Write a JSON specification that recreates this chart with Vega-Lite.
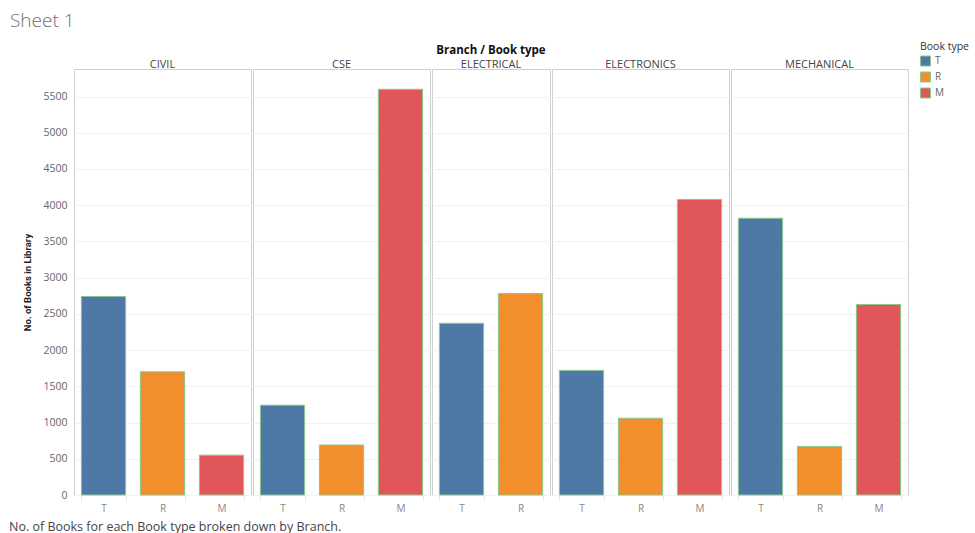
{
  "$schema": "https://vega.github.io/schema/vega-lite/v6.json",
  "background": "white",
  "padding": {"left": 8, "top": 12, "right": 2, "bottom": 2},
  "title": {
    "text": "Sheet 1",
    "anchor": "start",
    "frame": "bounds",
    "font": "Open Sans",
    "fontSize": 19,
    "fontWeight": 300,
    "color": "#707070",
    "offset": 11,
    "dx": 1
  },
  "vconcat": [
    {
      "data": {
        "values": [
          {"Branch": "CIVIL", "Type": "T", "Books": 2740},
          {"Branch": "CIVIL", "Type": "R", "Books": 1700},
          {"Branch": "CIVIL", "Type": "M", "Books": 550},
          {"Branch": "CSE", "Type": "T", "Books": 1240},
          {"Branch": "CSE", "Type": "R", "Books": 690},
          {"Branch": "CSE", "Type": "M", "Books": 5600},
          {"Branch": "ELECTRICAL", "Type": "T", "Books": 2370},
          {"Branch": "ELECTRICAL", "Type": "R", "Books": 2780},
          {"Branch": "ELECTRONICS", "Type": "T", "Books": 1720},
          {"Branch": "ELECTRONICS", "Type": "R", "Books": 1060},
          {"Branch": "ELECTRONICS", "Type": "M", "Books": 4080},
          {"Branch": "MECHANICAL", "Type": "T", "Books": 3820},
          {"Branch": "MECHANICAL", "Type": "R", "Books": 670},
          {"Branch": "MECHANICAL", "Type": "M", "Books": 2630}
        ]
      },
      "title": {
        "text": "No. of Books for each Book type broken down by Branch.",
        "orient": "bottom",
        "anchor": "start",
        "frame": "bounds",
        "font": "Open Sans",
        "fontSize": 12.5,
        "fontWeight": "normal",
        "color": "#444444",
        "offset": 7,
        "dx": -14
      },
      "facet": {
        "column": {
          "field": "Branch",
          "type": "nominal",
          "sort": ["CIVIL", "CSE", "ELECTRICAL", "ELECTRONICS", "MECHANICAL"],
          "title": "Branch  /  Book type",
          "header": {
            "titleFont": "Open Sans",
            "titleFontSize": 11.5,
            "titleFontWeight": "bold",
            "titleColor": "#111111",
            "titlePadding": -7,
            "labelFont": "Open Sans",
            "labelFontSize": 11,
            "labelColor": "#444444",
            "labelPadding": -2
          }
        }
      },
      "spacing": 0,
      "resolve": {"scale": {"x": "independent"}},
      "spec": {
        "width": {"step": 59},
        "height": 426,
        "mark": {"type": "bar", "stroke": "#8cc78c", "strokeWidth": 1},
        "encoding": {
          "x": {
            "field": "Type",
            "type": "nominal",
            "sort": ["T", "R", "M"],
            "scale": {"paddingInner": 0.25, "paddingOuter": 0.125},
            "axis": {
              "title": null,
              "labelAngle": 0,
              "labelFont": "Open Sans",
              "labelFontSize": 10,
              "labelColor": "#888888",
              "labelPadding": 3,
              "ticks": true,
              "tickBand": "extent",
              "tickSize": 5,
              "tickColor": "#e4e4e4",
              "domain": false
            }
          },
          "y": {
            "field": "Books",
            "type": "quantitative",
            "scale": {"domain": [0, 5880], "nice": false},
            "axis": {
              "title": "No. of Books in Library",
              "titleFont": "Roboto",
              "titleFontSize": 9.5,
              "titleFontWeight": "bold",
              "titleColor": "#222222",
              "titlePadding": 10,
              "values": [0, 500, 1000, 1500, 2000, 2500, 3000, 3500, 4000, 4500, 5000, 5500],
              "format": "d",
              "labelFont": "Open Sans",
              "labelFontSize": 10.5,
              "labelColor": "#666666",
              "labelPadding": 6,
              "ticks": false,
              "domain": false,
              "grid": true,
              "gridColor": "#f2f2f2"
            }
          },
          "color": {
            "field": "Type",
            "type": "nominal",
            "sort": ["T", "R", "M"],
            "scale": {"domain": ["T", "R", "M"], "range": ["#4e79a7", "#f28e2b", "#e15759"]},
            "legend": {
              "title": "Book type",
              "orient": "none",
              "legendX": 846,
              "legendY": -27,
              "titleFont": "Open Sans",
              "titleFontSize": 10.5,
              "titleFontWeight": "normal",
              "titleColor": "#333333",
              "titlePadding": 3,
              "labelFont": "Open Sans",
              "labelFontSize": 10,
              "labelColor": "#666666",
              "symbolType": "square",
              "symbolSize": 100,
              "symbolStrokeColor": "#8cc78c",
              "symbolStrokeWidth": 1,
              "rowPadding": 1
            }
          }
        }
      }
    }
  ],
  "config": {
    "view": {"stroke": "#d0d0d0"}
  }
}
